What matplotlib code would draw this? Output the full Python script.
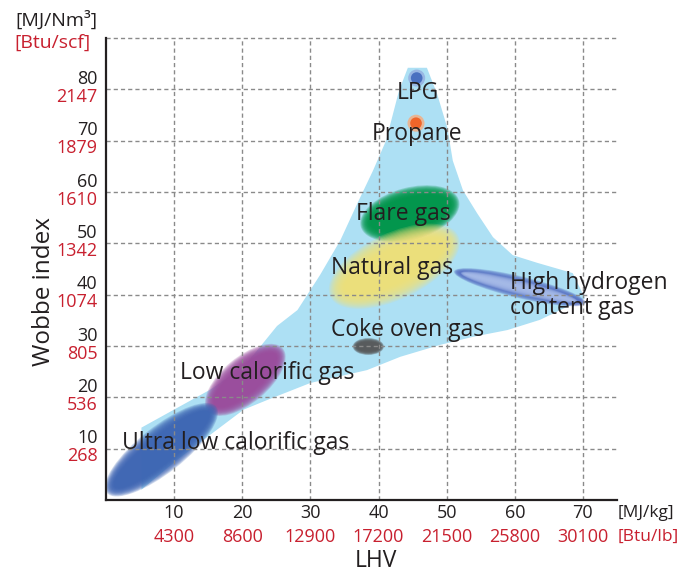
import numpy as np
import matplotlib
matplotlib.use("Agg")
import matplotlib.pyplot as plt
from matplotlib.patches import Ellipse, Polygon
from matplotlib.transforms import ScaledTranslation

plt.rcParams['font.family'] = ['Open Sans', 'DejaVu Sans']

# ---------------- data ----------------
lhv_mj = [10, 20, 30, 40, 50, 60, 70]
lhv_btu = [4300, 8600, 12900, 17200, 21500, 25800, 30100]
wobbe_mj = [10, 20, 30, 40, 50, 60, 70, 80]
wobbe_btu = [268, 536, 805, 1074, 1342, 1610, 1879, 2147]

# envelope of all fuel gases (LHV, Wobbe)
env_lhv = [5.2, 5.2, 15.3, 20.2, 25.1, 28.1, 31.4, 34.4, 36.9, 39.2, 41.1, 43.0, 44.3,
           47.1, 48.6, 50.1, 50.9, 52.4, 54.5, 56.8, 59.7, 63.3, 68.5, 70.3, 63.7, 58.9,
           53.9, 49.0, 43.2, 38.3, 30.0, 23.7, 20.2, 10.5]
env_wobbe = [2.0, 14.1, 21.5, 25.9, 33.9, 37.0, 43.8, 50.6, 57.8, 64.2, 70.0, 79.7, 84.2,
             84.2, 79.1, 72.5, 66.1, 60.3, 55.8, 51.2, 47.7, 46.2, 44.2, 39.3, 35.1, 33.1,
             31.8, 30.2, 27.9, 25.3, 22.8, 19.5, 17.6, 7.9]

# gas groups: range end points (LHV, Wobbe)
gas_names = ["Flare gas", "Natural gas", "High hydrogen", "Coke oven gas",
             "Low calorific gas", "Ultra low calorific gas"]
gas_lhv_lo = [38.1, 34.0, 51.5, 36.5, 15.5, 0.7]
gas_wob_lo = [53.5, 40.3, 44.4, 29.9, 17.9, 2.0]
gas_lhv_hi = [51.1, 50.6, 70.0, 40.5, 25.4, 15.6]
gas_wob_hi = [58.1, 50.8, 38.5, 29.9, 28.9, 17.6]

# single-point gases
pt_names = ["LPG", "Propane"]
pt_lhv = [45.6, 45.5]
pt_wobbe = [82.2, 73.4]

# ---------------- style ----------------
TXT = '#231f20'
RED = '#c8202f'
ENV = '#ade0f4'
gas_thick = [42, 50, 16, 13, 36, 36]          # px
gas_color = ['#00964a', '#f3df74', '#5b75c6', '#58595b', '#9a4c9d', '#3e66b4']
gas_blur = [5, 8, 3, 2, 5, 5]
gas_alpha = [0.22, 0.17, 0.22, 0.22, 0.22, 0.22]

fig = plt.figure(figsize=(6.96, 5.75), dpi=100)
ax = fig.add_axes([106 / 696, 1 - 500 / 575, 511 / 696, 462 / 575])
ax.set_xlim(0, 75)
ax.set_ylim(0, 90)
ax.set_xticks([])
ax.set_yticks([])
for s in ['top', 'right']:
    ax.spines[s].set_visible(False)
for s in ['left', 'bottom']:
    ax.spines[s].set_linewidth(1.6)
    ax.spines[s].set_color(TXT)
    ax.spines[s].set_zorder(6)

# envelope
ax.add_patch(Polygon(np.column_stack([env_lhv, env_wobbe]), closed=True,
                     facecolor=ENV, edgecolor='none', zorder=1))


def soft_ellipse(p1, p2, thick, color, blur, zorder, n=14, a=0.22):
    d1 = ax.transData.transform(p1)
    d2 = ax.transData.transform(p2)
    L = np.hypot(*(d2 - d1))
    ang = np.degrees(np.arctan2(d2[1] - d1[1], d2[0] - d1[0]))
    cx, cy = (p1[0] + p2[0]) / 2, (p1[1] + p2[1]) / 2
    tr = fig.dpi_scale_trans + ScaledTranslation(cx, cy, ax.transData)
    for i in range(n):
        d = blur * (1 - 2 * i / (n - 1))
        e = Ellipse((0, 0), (L + 2 * d) / 100, max(thick + 2 * d, 1) / 100, angle=ang,
                    transform=tr, facecolor=color, edgecolor='none', alpha=a,
                    zorder=zorder)
        ax.add_patch(e)


for i in range(len(gas_names)):
    soft_ellipse((gas_lhv_lo[i], gas_wob_lo[i]), (gas_lhv_hi[i], gas_wob_hi[i]),
                 gas_thick[i], gas_color[i], gas_blur[i], 2, a=gas_alpha[i])
# light interior of high-hydrogen ellipse
soft_ellipse((gas_lhv_lo[2] + 1.0, gas_wob_lo[2] - 0.3), (gas_lhv_hi[2] - 1.2, gas_wob_hi[2] + 0.3),
             8, '#a8bdea', 3, 2.1)

# points
ax.scatter(pt_lhv, pt_wobbe, s=[150, 150], c=['#93acdf', '#f7ab7c'], edgecolors='none',
           alpha=0.8, zorder=2)
ax.scatter(pt_lhv, pt_wobbe, s=[70, 70], c=['#4a70c0', '#f0652a'], edgecolors='none',
           zorder=2.1)

# grid
gkw = dict(color='#8a8a8a', lw=1.0, linestyle=(0, (3, 2.2)), zorder=3)
for v in lhv_mj:
    ax.axvline(v, **gkw)
for v in wobbe_mj + [90]:
    ax.axhline(v, clip_on=False, **gkw)

# tick labels
TFS = 13
for v, b in zip(wobbe_mj, wobbe_btu):
    ax.annotate(str(v), xy=(0, v), xycoords=('axes fraction', 'data'), xytext=(-6, 7.5),
                textcoords='offset points', ha='right', va='center', fontsize=TFS, color=TXT)
    ax.annotate(str(b), xy=(0, v), xycoords=('axes fraction', 'data'), xytext=(-6, -5.5),
                textcoords='offset points', ha='right', va='center', fontsize=TFS, color=RED)
for v, b in zip(lhv_mj, lhv_btu):
    ax.annotate(str(v), xy=(v, 0), xycoords=('data', 'axes fraction'), xytext=(0, -9.5),
                textcoords='offset points', ha='center', va='center', fontsize=TFS, color=TXT)
    ax.annotate(str(b), xy=(v, 0), xycoords=('data', 'axes fraction'), xytext=(0, -26.5),
                textcoords='offset points', ha='center', va='center', fontsize=TFS, color=RED)
ax.annotate('[MJ/kg]', xy=(1, 0), xycoords='axes fraction', xytext=(0.5, -9.5),
            textcoords='offset points', ha='left', va='center', fontsize=12.5, color=TXT)
ax.annotate('[Btu/lb]', xy=(1, 0), xycoords='axes fraction', xytext=(0.5, -26.5),
            textcoords='offset points', ha='left', va='center', fontsize=12.5, color=RED)
fig.text(15 / 696, 1 - 20 / 575, '[MJ/Nm³]', ha='left', va='center', fontsize=14, color=TXT)
fig.text(14 / 696, 1 - 43 / 575, '[Btu/scf]', ha='left', va='center', fontsize=14, color=RED)

fig.text(44 / 696, 1 - 292 / 575, 'Wobbe index', rotation=90, ha='center', va='center',
         fontsize=17.5, color=TXT)
fig.text(376 / 696, 1 - 561 / 575, 'LHV', ha='center', va='center', fontsize=16.5, color=TXT)

# gas labels
lab_kw = dict(fontsize=16.5, color=TXT, zorder=5)
ax.text(45.8, 79.3, 'LPG', ha='center', va='center', **lab_kw)
ax.text(45.6, 71.3, 'Propane', ha='center', va='center', **lab_kw)
ax.text(43.7, 55.8, 'Flare gas', ha='center', va='center', **lab_kw)
ax.text(42.0, 45.1, 'Natural gas', ha='center', va='center', **lab_kw)
ax.text(59.3, 39.9, 'High hydrogen\ncontent gas', ha='left', va='center',
        linespacing=1.05, **lab_kw)
ax.text(44.3, 33.1, 'Coke oven gas', ha='center', va='center', **lab_kw)
ax.text(23.7, 24.7, 'Low calorific gas', ha='center', va='center', **lab_kw)
ax.text(19.0, 11.2, 'Ultra low calorific gas', ha='center', va='center', **lab_kw)

fig.savefig('out.png', dpi=100)
